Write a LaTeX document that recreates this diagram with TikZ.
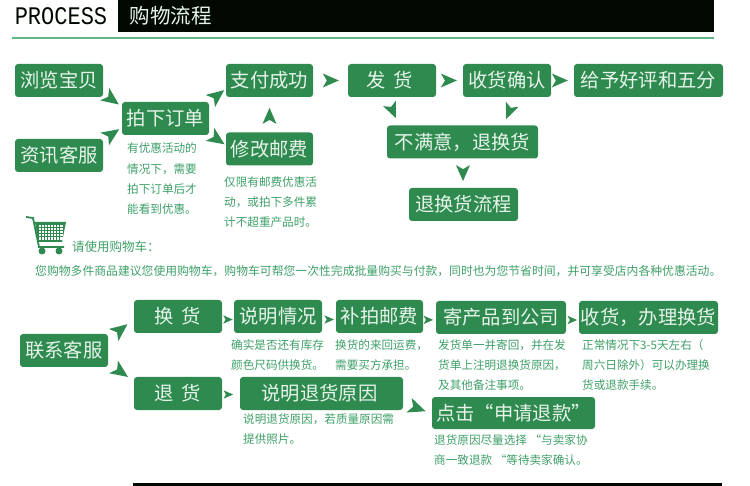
\documentclass[tikz,border=0pt]{standalone}
\usepackage{fontspec}
\usepackage{xcolor}
\setmainfont{Noto Sans CJK SC}
\newfontfamily\headfont{Liberation Mono}
\definecolor{boxgreen}{HTML}{2F8A4F}
\definecolor{boxtext}{HTML}{E6F4EA}
\definecolor{notegreen}{HTML}{3E9F68}
\definecolor{rulegreen}{HTML}{5FB687}
\definecolor{barblack}{HTML}{000800}

\begin{document}
\begin{tikzpicture}[
  x=1pt,y=-1pt,
  flowbox/.style={rectangle,rounded corners=3pt,fill=boxgreen,text=boxtext,inner sep=0pt,minimum height=33pt,font=\fontsize{19.3}{19.3}\selectfont},
  note/.style={anchor=north west,inner sep=0pt,align=left,text=notegreen,font=\fontsize{11.6}{20.2}\selectfont},
  flowtip/.pic={\fill[boxgreen] (-8,-7) -- (8,0) -- (-8,7) -- (-4,0) -- cycle;}
]
  \useasboundingbox (0,0) rectangle (750,486);
  % header
  \node[fill=barblack,minimum width=596pt,minimum height=32pt,inner sep=0pt] (bar) at (416,16) {};
  \node[inner sep=0pt,text=barblack,font=\headfont\fontsize{22}{22}\selectfont] (process) at (61,16) {\scalebox{1}[1.15]{PROCESS}};
  \node[inner sep=0pt,text=boxtext,font=\fontsize{20.5}{20.5}\selectfont] (title) at (170.5,16) {购物流程};
  \fill[rulegreen] (12,37) rectangle (714,39);
  % top flow
  \node[flowbox,minimum width=88pt] (browse) at (59,80.5) {浏览宝贝};
  \node[flowbox,minimum width=88pt] (consult) at (59,155.5) {资讯客服};
  \node[flowbox,minimum width=87pt] (order) at (165.5,118.5) {拍下订单};
  \node[flowbox,minimum width=87pt] (pay) at (269.5,80.5) {支付成功};
  \node[flowbox,minimum width=87pt] (edit) at (269.5,149) {修改邮费};
  \node[flowbox,minimum width=88pt] (ship) at (392,80.5) {发\hspace{8pt}货\hspace*{5pt}};
  \node[flowbox,minimum width=88pt] (confirm) at (507,80.5) {收货确认};
  \node[flowbox,minimum width=149pt] (praise) at (648.5,80.5) {给予好评和五分};
  \node[flowbox,minimum width=151pt] (unhappy) at (462.5,142) {不满意，退换货};
  \node[flowbox,minimum width=109pt] (flowback) at (463.5,204.5) {退换货流程};
  \path (browse) -- (order) pic[pos=.46,rotate=-36,scale=1.1] {flowtip};
  \path (consult) -- (order) pic[pos=.47,yshift=3pt,rotate=34,scale=1.1] {flowtip};
  \path (order) -- (pay) pic[pos=.486,yshift=4pt,rotate=38,scale=1.1] {flowtip};
  \path (order) -- (edit) pic[pos=.486,yshift=-5.7pt,rotate=-34,scale=1.1] {flowtip};
  \path (edit) -- (pay) pic[pos=.467,rotate=90] {flowtip};
  \path (pay) -- (ship) pic[pos=.51] {flowtip};
  \path (ship) -- (confirm) pic[pos=.478] {flowtip};
  \path (confirm) -- (praise) pic[pos=.382] {flowtip};
  \path (ship) -- (unhappy) pic[pos=.48,xshift=-34pt,rotate=-67] {flowtip};
  \path (confirm) -- (unhappy) pic[pos=.51,xshift=24.7pt,rotate=-112] {flowtip};
  \path (unhappy) -- (flowback) pic[pos=.496,rotate=-90] {flowtip};
  \node[note] (ordernote) at (127,143) {有优惠活动的\\情况下，需要\\拍下订单后才\\能看到优惠。};
  \node[note] (editnote) at (224,176.5) {仅限有邮费优惠活\\动，或拍下多件累\\计不超重产品时。};
  % cart
  \draw[boxgreen,line width=1.8pt] (26,217) -- (33,218) -- (39,247) -- (64,247);
  \fill[boxgreen] (35,222) -- (66,222) -- (62,242) -- (38,242) -- cycle;
  \foreach \gx in {0,...,7}
    \foreach \gy in {0,...,4}
      \fill[white] (38.6+\gx*3.1,225+\gy*3.1) rectangle +(2.2,2.2);
  \fill[boxgreen] (42,251) circle (3.5);
  \fill[boxgreen] (59,251) circle (3.5);
  \node[note,font=\fontsize{12.5}{14}\selectfont] (carthint) at (72,241) {请使用购物车：};
  \node[note,font=\fontsize{11.83}{14}\selectfont] (cartnote) at (35,265) {您购物多件商品建议您使用购物车，购物车可帮您一次性完成批量购买与付款，同时也为您节省时间，并可享受店内各种优惠活动。};
  % lower flow
  \node[flowbox,minimum width=88pt] (contact) at (64,350.5) {联系客服};
  \node[flowbox,minimum width=88pt] (change) at (178,316.5) {换\hspace{8pt}货};
  \node[flowbox,minimum width=88pt] (explain) at (278,316.5) {说明情况};
  \node[flowbox,minimum width=87pt] (repost) at (379.5,316.5) {补拍邮费};
  \node[flowbox,minimum width=130pt] (send) at (501,317.5) {寄产品到公司};
  \node[flowbox,minimum width=139pt] (finish) at (648.5,317.5) {收货，办理换货};
  \node[flowbox,minimum width=88pt] (refund) at (178,393.5) {退\hspace{8pt}货};
  \node[flowbox,minimum width=163pt] (reason) at (321.5,393.5) {说明退货原因\hspace*{4pt}};
  \node[flowbox,minimum width=163pt,minimum height=32pt] (apply) at (513.5,413) {点击“申请退款”};
  \path (contact) -- (change) pic[pos=.482,yshift=4pt,rotate=38,scale=1.1] {flowtip};
  \path (contact) -- (refund) pic[pos=.491,rotate=-35,scale=1.1] {flowtip};
  \path (change) -- (explain) pic[pos=.5,yshift=-3pt,scale=.6] {flowtip};
  \path (explain) -- (repost) pic[pos=.512,yshift=-3pt,scale=.6] {flowtip};
  \path (repost) -- (send) pic[pos=.407,yshift=-3pt,scale=.6] {flowtip};
  \path (send) -- (finish) pic[pos=.485,yshift=-2.5pt,scale=.6] {flowtip};
  \path (refund) -- (reason) pic[pos=.348,yshift=-1pt,scale=.6] {flowtip};
  \path (reason) -- (apply) pic[pos=.492,yshift=-5pt,rotate=-20,scale=1.1] {flowtip};
  \node[note] (explainnote) at (231,339) {确实是否还有库存\\颜色尺码供换货。};
  \node[note] (repostnote) at (335,339) {换货的来回运费，\\需要买方承担。};
  \node[note] (sendnote) at (438,339) {发货单一并寄回，并在发\\货单上注明退换货原因，\\及其他备注事项。};
  \node[note] (finishnote) at (582,339) {正常情况下3-5天左右（\\周六日除外）可以办理换\\货或退款手续。};
  \node[note] (reasonnote) at (243,413) {说明退货原因，若质量原因需\\提供照片。};
  \node[note] (applynote) at (434,434) {退货原因尽量选择 “与卖家协\\商一致退款 “等待卖家确认。};
  % bottom rule
  \fill[barblack] (133,483) rectangle (722,486);
\end{tikzpicture}
\end{document}
